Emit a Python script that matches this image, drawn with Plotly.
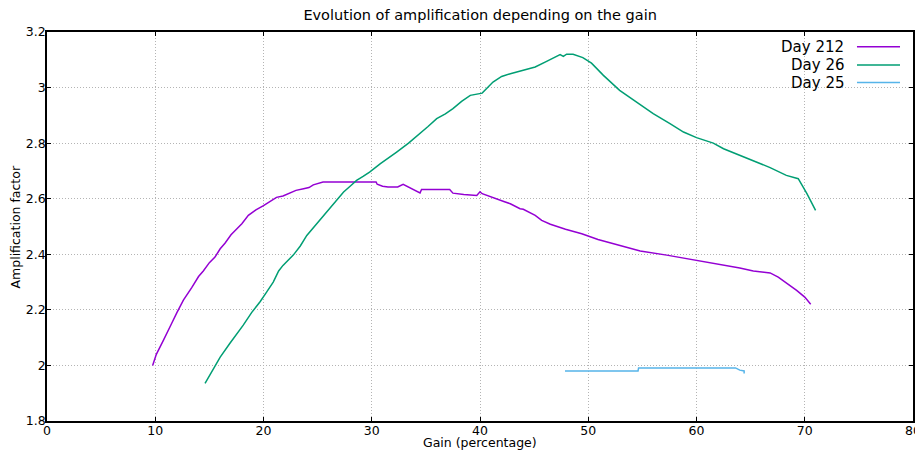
import plotly.graph_objects as go

# ---- data ----
day212_x = [9.76, 10.1, 10.75, 11.1, 11.5, 12.0, 12.6, 13.37, 14.0, 14.44, 15.0, 15.52, 16.0, 16.44,
            17.0, 17.5, 18.0, 18.6, 19.3, 20.0, 20.6, 21.2, 21.8, 22.45, 23.0, 23.7, 24.2, 24.6, 25.5,
            28.0, 30.4, 30.5, 31.0, 31.5, 32.4, 32.9, 33.7, 34.46, 34.6, 37.2, 37.5, 38.5, 39.7, 40.0,
            40.2, 40.6, 41.5, 42.2, 42.8, 43.7, 44.0, 45.1, 45.7, 46.5, 47.9, 49.4, 50.9, 52.9, 54.8,
            57.25, 59.7, 60.9, 62.3, 64.0, 65.25, 66.8, 67.55, 68.3, 69.25, 70.0, 70.55]
day212_y = [2.00, 2.04, 2.09, 2.12, 2.15, 2.19, 2.235, 2.28, 2.32, 2.34, 2.37, 2.39, 2.42, 2.44,
            2.47, 2.49, 2.51, 2.54, 2.56, 2.575, 2.59, 2.605, 2.61, 2.62, 2.63, 2.636, 2.64, 2.65, 2.66,
            2.66, 2.66, 2.652, 2.645, 2.642, 2.642, 2.652, 2.635, 2.621, 2.633, 2.633, 2.62, 2.615, 2.612, 2.625,
            2.618, 2.612, 2.60, 2.59, 2.582, 2.564, 2.562, 2.54, 2.522, 2.508, 2.49, 2.474, 2.453, 2.433, 2.412,
            2.397, 2.381, 2.372, 2.363, 2.351, 2.34, 2.333, 2.318, 2.297, 2.27, 2.246, 2.22]

day26_x = [14.6, 14.8, 15.4, 16.0, 16.9, 17.5, 18.13, 18.9, 19.7, 20.3, 20.9, 21.4, 21.8, 22.75, 23.4,
           24.0, 25.06, 26.1, 26.8, 27.4, 28.0, 28.6, 29.2, 29.8, 30.8, 31.5, 32.3, 33.4, 34.46, 35.2,
           36.0, 36.8, 37.5, 38.3, 39.1, 40.2, 41.2, 42.0, 42.8, 44.6, 45.1, 46.2, 47.4, 47.7, 48.0, 48.6,
           49.5, 50.3, 51.4, 52.9, 54.5, 56.0, 57.55, 58.8, 60.0, 61.55, 62.5, 64.0, 65.25, 66.8, 68.3,
           69.4, 70.2, 71.0]
day26_y = [1.935, 1.949, 1.99, 2.03, 2.08, 2.11, 2.145, 2.19, 2.23, 2.265, 2.30, 2.34, 2.36, 2.397, 2.43,
           2.468, 2.516, 2.564, 2.595, 2.624, 2.645, 2.666, 2.68, 2.696, 2.726, 2.745, 2.768, 2.80, 2.834, 2.86,
           2.888, 2.905, 2.924, 2.95, 2.972, 2.98, 3.02, 3.04, 3.05, 3.068, 3.074, 3.095, 3.119, 3.112, 3.12, 3.12,
           3.108, 3.088, 3.044, 2.99, 2.948, 2.906, 2.87, 2.84, 2.82, 2.80, 2.78, 2.756, 2.736, 2.712, 2.684,
           2.672, 2.618, 2.558]

day25_x = [47.85, 54.6, 54.65, 63.6, 64.0, 64.4, 64.4]
day25_y = [1.98, 1.98, 1.991, 1.991, 1.983, 1.98, 1.971]

series_names = ["Day 212", "Day 26", "Day 25"]
series_colors = ["#9400D3", "#009E73", "#56B4E9"]

x_ticks = [0, 10, 20, 30, 40, 50, 60, 70, 80]
y_ticks = [1.8, 2.0, 2.2, 2.4, 2.6, 2.8, 3.0, 3.2]
y_tick_text = ["1.8", "2", "2.2", "2.4", "2.6", "2.8", "3", "3.2"]

FONT = "DejaVu Sans"

fig = go.Figure()
for name, xs, ys, col in zip(series_names, [day212_x, day26_x, day25_x],
                             [day212_y, day26_y, day25_y], series_colors):
    fig.add_trace(go.Scatter(x=xs, y=ys, mode="lines", name=name,
                             line=dict(color=col, width=1.5), showlegend=False))

# gnuplot-style key: right-aligned text with line sample on its right
row_y = [0.962, 0.915, 0.870]
for name, col, yy in zip(series_names, series_colors, row_y):
    fig.add_annotation(x=0.9226, y=yy, xref="paper", yref="paper", text=name,
                       showarrow=False, xanchor="right", yanchor="middle",
                       font=dict(family=FONT, size=15, color="black"))
    fig.add_shape(type="line", xref="paper", yref="paper", x0=0.9353, x1=0.985,
                  y0=yy, y1=yy, line=dict(color=col, width=1.5))

# axis titles placed like gnuplot
fig.add_annotation(x=0.5, y=-0.056, xref="paper", yref="paper", text="Gain (percentage)",
                   showarrow=False, xanchor="center", yanchor="middle",
                   font=dict(family=FONT, size=12.5, color="black"))
fig.add_annotation(x=-0.0358, y=0.5, xref="paper", yref="paper", text="Amplification factor",
                   showarrow=False, xanchor="center", yanchor="middle", textangle=-90,
                   font=dict(family=FONT, size=12.5, color="black"))

axis_common = dict(showline=True, linecolor="black", linewidth=1.5, mirror="allticks",
                   ticks="inside", ticklen=4, tickcolor="black", showgrid=True,
                   gridcolor="#b4b4b4", griddash="1px,2px", gridwidth=1, zeroline=False,
                   tickfont=dict(family=FONT, size=12.5, color="black"))

fig.update_xaxes(range=[0, 80], tickvals=x_ticks, ticklabelstandoff=-3, **axis_common)
fig.update_yaxes(range=[1.8, 3.2], tickvals=y_ticks, ticktext=y_tick_text,
                 ticklabelstandoff=-3, **axis_common)

fig.update_layout(
    width=915, height=445,
    margin=dict(l=39, r=10, t=24, b=32, autoexpand=False),
    paper_bgcolor="white", plot_bgcolor="white",
    title=dict(text="Evolution of amplification depending on the gain", x=0.516, xanchor="center",
               y=1 - 2 / 445, yanchor="top", yref="container",
               font=dict(family=FONT, size=14.5, color="black")),
    font=dict(family=FONT, size=12.5, color="black"),
)

fig.write_html("out.html")
